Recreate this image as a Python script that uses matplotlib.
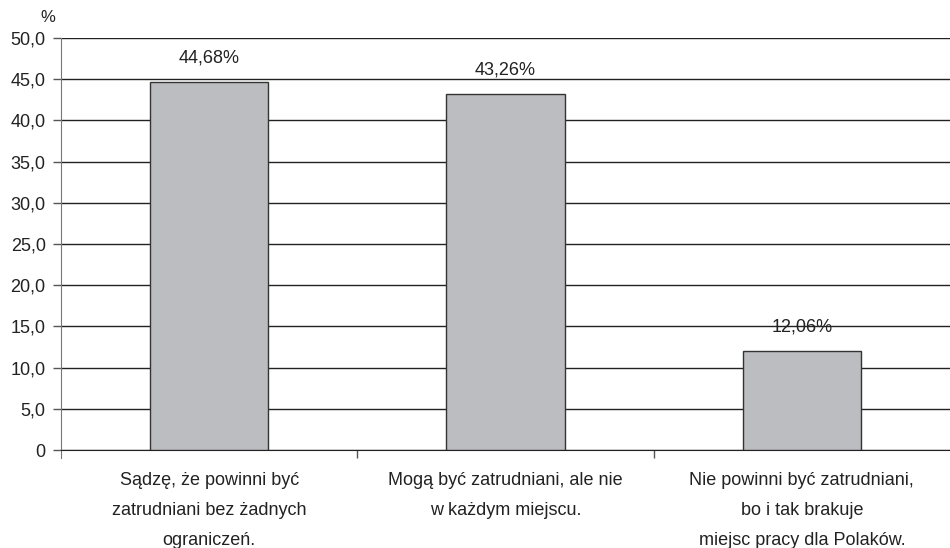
import numpy as np
import matplotlib.pyplot as plt

plt.rcParams['font.family'] = ['Liberation Sans', 'DejaVu Sans']

categories = ["Sądzę, że powinni być\nzatrudniani bez żadnych\nograniczeń.",
              "Mogą być zatrudniani, ale nie\nw każdym miejscu.",
              "Nie powinni być zatrudniani,\nbo i tak brakuje\nmiejsc pracy dla Polaków."]
values = [44.68, 43.26, 12.06]
value_labels = ["44,68%", "43,26%", "12,06%"]
yticks = [0, 5, 10, 15, 20, 25, 30, 35, 40, 45, 50]
ytick_labels = ["0", "5,0", "10,0", "15,0", "20,0", "25,0", "30,0", "35,0", "40,0", "45,0", "50,0"]

fig = plt.figure(figsize=(9.5, 5.48), dpi=100)
ax = fig.add_axes([0.0642, 0.1788, 0.9358, 0.7519])

x = np.arange(len(categories))
ax.set_axisbelow(True)
ax.yaxis.grid(True, color='#222222', linewidth=1.0)
ax.bar(x, values, width=0.4, color='#bcbdc0', edgecolor='#333333', linewidth=1.0, zorder=3)

for xi, v, lab in zip(x, values, value_labels):
    ax.annotate(lab, (xi, v), xytext=(0, 17), textcoords='offset points',
                ha='center', va='center', fontsize=13, color='#222222')

ax.set_xlim(-0.5, 2.5)
ax.set_ylim(0, 50)
ax.set_yticks(yticks)
ax.set_yticklabels(ytick_labels, fontsize=13, color='#222222')
ax.set_xticks(x)
ax.set_xticklabels(categories, fontsize=13, color='#222222', linespacing=2.0)
ax.set_xticks([0.5, 1.5], minor=True)
ax.tick_params(axis='x', which='major', length=0, pad=16)
ax.tick_params(axis='x', which='minor', length=6, color='#555555', width=1)
ax.tick_params(axis='y', length=6, color='#555555', width=1, pad=5)

ax.spines['top'].set_visible(False)
ax.spines['right'].set_visible(False)
ax.spines['left'].set_color('#777777')
ax.spines['left'].set_bounds(-1, 50)
ax.spines['bottom'].set_color('#222222')

fig.text(48 / 950, 1 - 18 / 548, "%", ha='center', va='center', fontsize=12, color='#222222')

fig.savefig("out.png", dpi=100)
